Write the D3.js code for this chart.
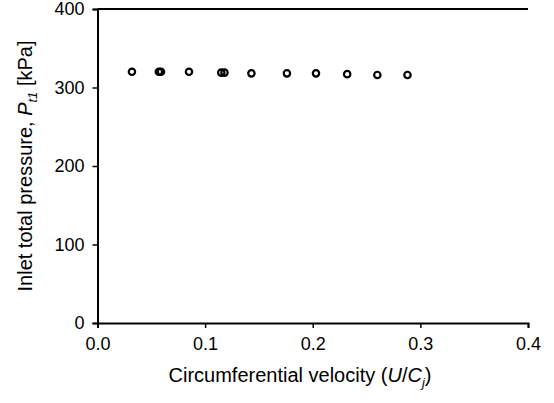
<!DOCTYPE html>
<html>
<head>
<meta charset="utf-8">
<script src="https://cdn.jsdelivr.net/npm/d3@7"></script>
<style>
  html, body { margin: 0; padding: 0; background: #fff; }
  svg { display: block; }
  text { font-family: "Liberation Sans", Arial, sans-serif; fill: #000; }
</style>
</head>
<body>
<svg id="chart" width="554" height="403"></svg>
<script>
// Data
const velocity = [0.032, 0.057, 0.059, 0.085, 0.115, 0.118, 0.143, 0.176, 0.203, 0.232, 0.260, 0.288];
const pressure = [320, 320, 320, 320, 319, 319, 318, 318, 318, 317, 316, 316];
const xTicks = [0.0, 0.1, 0.2, 0.3, 0.4];
const yTicks = [0, 100, 200, 300, 400];

const svg = d3.select("#chart");
const margin = { left: 97.5, right: 26, top: 9, bottom: 80 };
const W = 554, H = 403;

const x = d3.scaleLinear().domain([0, 0.4]).range([margin.left, W - margin.right]);
const y = d3.scaleLinear().domain([0, 400]).range([H - margin.bottom, margin.top]);

// top frame line
svg.append("line")
  .attr("x1", x(0)).attr("x2", x(0.4))
  .attr("y1", y(400)).attr("y2", y(400))
  .attr("stroke", "#000").attr("stroke-width", 2);

const xAxis = svg.append("g")
  .attr("transform", `translate(0,${y(0)})`)
  .call(d3.axisBottom(x).tickValues(xTicks).tickFormat(d3.format(".1f")).tickSizeOuter(0).tickSize(5).tickPadding(9));

const yAxis = svg.append("g")
  .attr("transform", `translate(${x(0)},0)`)
  .call(d3.axisLeft(y).tickValues(yTicks).tickSizeOuter(0).tickSize(5).tickPadding(8));

[xAxis, yAxis].forEach(g => {
  g.select(".domain").attr("stroke", "#000").attr("stroke-width", 2);
  g.selectAll(".tick line").attr("stroke", "#000").attr("stroke-width", 1.5);
  g.selectAll(".tick text")
    .style("font-family", '"Liberation Sans", Arial, sans-serif')
    .style("font-size", "18px").attr("fill", "#000");
});

// points
svg.append("g").selectAll("circle")
  .data(velocity.map((v, i) => [v, pressure[i]]))
  .join("circle")
  .attr("cx", d => x(d[0]))
  .attr("cy", d => y(d[1]))
  .attr("r", 3.2)
  .attr("fill", "none")
  .attr("stroke", "#000")
  .attr("stroke-width", 2.2);

// x-axis label
const xl = svg.append("text")
  .attr("x", 300)
  .attr("y", 382)
  .attr("text-anchor", "middle")
  .style("font-size", "20px");
xl.append("tspan").text("Circumferential velocity (");
xl.append("tspan").style("font-style", "italic").text("U");
xl.append("tspan").text("/");
xl.append("tspan").style("font-style", "italic").text("C");
xl.append("tspan").style("font-style", "italic").style("font-size", "13px").attr("dy", 5).text("j");
xl.append("tspan").attr("dy", -5).text(")");

// y-axis label
const yl = svg.append("text")
  .attr("transform", `translate(32,${(y(0) + y(400)) / 2}) rotate(-90)`)
  .attr("text-anchor", "middle")
  .style("font-size", "20px");
yl.append("tspan").text("Inlet total pressure, ");
yl.append("tspan").style("font-style", "italic").text("P");
yl.append("tspan").style("font-style", "italic").style("font-size", "13px").attr("dy", 5).text("t1");
yl.append("tspan").attr("dy", -5).text(" [kPa]");
</script>
</body>
</html>
